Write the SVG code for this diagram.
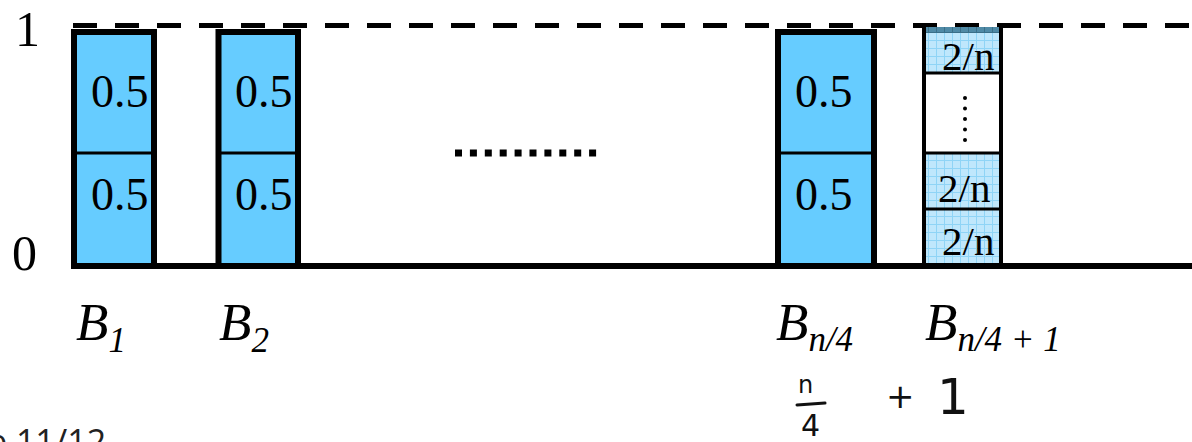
<svg xmlns="http://www.w3.org/2000/svg" width="1192" height="442" viewBox="0 0 1192 442">
<style>
.bin{fill:#66ccff;stroke:#000;stroke-width:6}
.div{stroke:#000;stroke-width:3}
.val{font-family:"Liberation Serif",serif;font-size:46px;fill:#000}
.frac{font-family:"Liberation Serif",serif;font-size:41px;fill:#000}
.ax{font-family:"Liberation Serif",serif;font-size:50px;fill:#000}
.lab{font-family:"Liberation Serif",serif;font-style:italic;font-size:53px;fill:#000}
.sub{font-size:35px}
.hand{font-family:"DejaVu Sans",sans-serif;fill:#111}
</style>
<defs>
<pattern id="grid" width="8" height="8" patternUnits="userSpaceOnUse">
<rect width="8" height="8" fill="#bfe7fc"/>
<path d="M0 0.5H8M0.5 0V8" stroke="#8fd4f6" stroke-width="1"/>
</pattern>
<pattern id="gridDark" width="8" height="8" patternUnits="userSpaceOnUse">
<rect width="8" height="8" fill="#4f8aa6"/>
<path d="M0 0.5H8M0.5 0V8" stroke="#3a6f88" stroke-width="1"/>
</pattern>
</defs>

<g id="axes">
<line x1="73" y1="25.5" x2="1192" y2="25.5" stroke="#000" stroke-width="5" stroke-dasharray="24 18"/>
<text class="ax" x="15" y="46">1</text>
<text class="ax" x="12" y="270">0</text>
</g>

<g id="bin1">
<rect class="bin" x="74" y="32" width="80" height="234"/>
<line class="div" x1="77" y1="153" x2="151" y2="153"/>
<text class="val" x="91" y="107">0.5</text>
<text class="val" x="91" y="210">0.5</text>
</g>

<g id="bin2">
<rect class="bin" x="218.5" y="32" width="79.5" height="234"/>
<line class="div" x1="221" y1="153" x2="295" y2="153"/>
<text class="val" x="235" y="107">0.5</text>
<text class="val" x="235" y="210">0.5</text>
</g>

<g id="ellipsis">
<line x1="455" y1="153" x2="597" y2="153" stroke="#000" stroke-width="7" stroke-dasharray="7 7.9"/>
</g>

<g id="binN4">
<rect class="bin" x="778" y="32" width="96" height="234"/>
<line class="div" x1="781" y1="153" x2="871" y2="153"/>
<text class="val" x="795" y="107">0.5</text>
<text class="val" x="795" y="210">0.5</text>
</g>

<g id="binN4plus1">
<rect x="925" y="27" width="76" height="239" fill="url(#grid)"/>
<rect x="925" y="27" width="76" height="6" fill="url(#gridDark)"/>
<rect x="925" y="73" width="76" height="80" fill="#fff"/>
<line x1="924" y1="27" x2="924" y2="266" stroke="#000" stroke-width="4"/>
<line x1="1001" y1="27" x2="1001" y2="266" stroke="#000" stroke-width="4"/>
<line class="div" x1="925" y1="73" x2="1000" y2="73"/>
<line class="div" x1="925" y1="153" x2="1000" y2="153"/>
<line class="div" x1="925" y1="209" x2="1000" y2="209"/>
<text class="frac" x="942" y="70">2/n</text>
<g fill="#000">
<circle cx="965" cy="98" r="2"/>
<circle cx="965" cy="108.5" r="2"/>
<circle cx="965" cy="119" r="2"/>
<circle cx="965" cy="129.5" r="2"/>
<circle cx="965" cy="140" r="2"/>
</g>
<text class="frac" x="938" y="202">2/n</text>
<text class="frac" x="942" y="255">2/n</text>
</g>

<g id="baseline">
<line x1="71" y1="266" x2="1192" y2="266" stroke="#000" stroke-width="6"/>
</g>

<g id="labels">
<text class="lab" x="76" y="340">B<tspan class="sub" dy="12">1</tspan></text>
<text class="lab" x="219" y="340">B<tspan class="sub" dy="12">2</tspan></text>
<text class="lab" x="776" y="340">B<tspan class="sub" dy="11">n/4</tspan></text>
<text class="lab" x="925" y="340">B<tspan class="sub" dy="11">n/4 + 1</tspan></text>
</g>

<g id="annotation">
<text class="hand" x="798" y="393" font-size="24">n</text>
<line x1="797" y1="405" x2="825" y2="403" stroke="#111" stroke-width="3" stroke-linecap="round"/>
<text class="hand" x="801" y="436" font-size="30">4</text>
<text class="hand" x="886" y="408" font-size="34">+</text>
<text class="hand" x="937" y="414" font-size="50">1</text>
</g>

<g id="footer">
<text x="-12" y="454" font-family="'Open Sans',sans-serif" font-size="34" fill="#222">e 11/12</text>
</g>
</svg>
